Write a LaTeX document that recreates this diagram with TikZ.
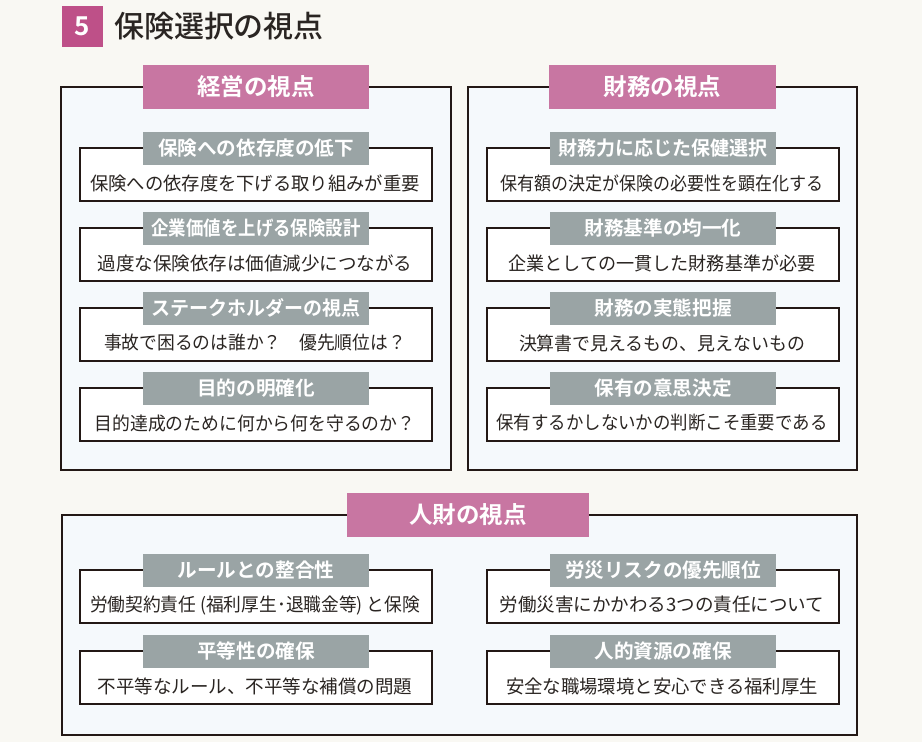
\documentclass[tikz,border=0pt]{standalone}
\usepackage{graphicx}
\usepackage{fontspec}
\setmainfont{Noto Sans CJK JP}[BoldFont={Noto Sans CJK JP Bold}]
\newfontfamily\jpmed{Noto Sans CJK JP Medium}[RawFeature=+palt]
\definecolor{bgc}{HTML}{F9F8F3}
\definecolor{panelc}{HTML}{F5F9FC}
\definecolor{pinkc}{HTML}{C876A2}
\definecolor{badgec}{HTML}{BE5088}
\definecolor{greyc}{HTML}{9AA4A5}
\definecolor{linec}{HTML}{231815}
\definecolor{textc}{HTML}{2A2522}
\newsavebox\fitbox
\newcommand\fitto[2]{\sbox\fitbox{#2}\pgfmathsetmacro\fitsx{#1/\the\wd\fitbox}\scalebox{\fitsx}[1]{\usebox\fitbox}}
\newcommand\fitmax[2]{\sbox\fitbox{#2}\pgfmathsetmacro\fitsx{min(1,#1/\the\wd\fitbox)}\scalebox{\fitsx}[1]{\usebox\fitbox}}
\newcommand\persp[6]{%
  \node[ibox] (#1b) at (#2,#3+26.5) {};
  \node[glabel] (#1l) at (#2,#3) {\fitmax{209}{#4}};
  \node[itext] (#1t) at (#2-1,#3+35) {\fitto{#6}{#5}};
}
\begin{document}
\begin{tikzpicture}[x=1pt,y=-1pt,
  panel/.style={draw=linec,line width=1.4pt,fill=panelc,inner sep=0pt},
  phead/.style={fill=pinkc,text=white,inner sep=0pt,minimum height=44pt,
    font=\fontsize{23.5}{23.5}\selectfont\bfseries},
  glabel/.style={fill=greyc,text=white,inner sep=0pt,minimum width=226pt,minimum height=33pt,
    font=\fontsize{19.6}{19.6}\selectfont\bfseries},
  ibox/.style={draw=linec,line width=1.3pt,fill=white,inner sep=0pt,minimum width=352pt,minimum height=53pt},
  itext/.style={text=textc,inner sep=0pt,font=\fontsize{18.5}{18.5}\selectfont},
  badge/.style={fill=badgec,text=white,inner sep=0pt,minimum width=41pt,minimum height=41pt,
    font=\fontsize{26}{26}\selectfont\bfseries},
  ttl/.style={text=textc,inner sep=0pt,anchor=west,font=\fontsize{30}{30}\selectfont\jpmed}]
\path[fill=bgc] (0,0) rectangle (922,742);
\useasboundingbox (0,0) rectangle (922,742);
% title
\node[badge] (bd) at (82.5,26.5) {5};
\node[ttl] (tt) at (114,26) {保険選択の視点};
% panels
\node[panel,minimum width=390pt,minimum height=383pt] (pL) at (256,278.5) {};
\node[panel,minimum width=389pt,minimum height=383pt] (pR) at (662.5,278.5) {};
\node[panel,minimum width=795pt,minimum height=220pt] (pB) at (459.5,625) {};
\node[phead,minimum width=226pt] (hL) at (256,87) {経営の視点};
\node[phead,minimum width=227pt] (hR) at (662.5,87) {財務の視点};
\node[phead,minimum width=242pt] (hB) at (468,515) {人財の視点};
% left items
\persp{a1}{256}{148}{保険への依存度の低下}{保険への依存度を下げる取り組みが重要}{330}
\persp{a2}{256}{228}{企業価値を上げる保険設計}{過度な保険依存は価値減少につながる}{315}
\persp{a3}{256}{308}{ステークホルダーの視点}{事故で困るのは誰か？　優先順位は？}{302}
\persp{a4}{256}{388}{目的の明確化}{目的達成のために何から何を守るのか？}{321}
% right items
\persp{b1}{663}{148}{財務力に応じた保健選択}{保有額の決定が保険の必要性を顕在化する}{323}
\persp{b2}{663}{228}{財務基準の均一化}{企業としての一貫した財務基準が必要}{307}
\persp{b3}{663}{308}{財務の実態把握}{決算書で見えるもの、見えないもの}{286}
\persp{b4}{663}{388}{保有の意思決定}{保有するかしないかの判断こそ重要である}{331}
% bottom items
\persp{c1}{256}{570}{ルールとの整合性}{労働契約責任 (福利厚生･退職金等) と保険}{330}
\persp{c2}{663}{570}{労災リスクの優先順位}{労働災害にかかわる3つの責任について}{325}
\persp{c3}{256}{651}{平等性の確保}{不平等なルール、不平等な補償の問題}{315}
\persp{c4}{663}{651}{人的資源の確保}{安全な職場環境と安心できる福利厚生}{312}
\end{tikzpicture}
\end{document}
